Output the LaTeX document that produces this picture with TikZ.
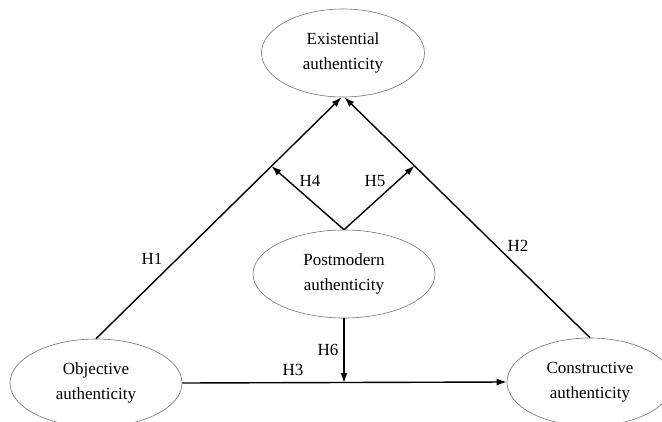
\documentclass[tikz,border=0pt]{standalone}
\usepackage{fontspec}
\setmainfont{Liberation Serif}
\usetikzlibrary{shapes.geometric,arrows.meta,calc}
\begin{document}
\begin{tikzpicture}[x=1pt,y=-1pt,
  construct/.style={draw=black!55,line width=0.6pt,ellipse,inner sep=0pt,align=center,
    font=\fontsize{17}{25}\selectfont},
  arr/.style={draw=black,line width=1.4pt,-{Latex[length=10pt,width=7pt]}},
  lnk/.style={draw=black,line width=1.4pt},
  hlab/.style={font=\fontsize{17}{20}\selectfont,inner sep=0pt}]
\useasboundingbox (0,0) rectangle (662,421);
\clip (0,0) rectangle (662,421);
\node[construct,minimum width=163pt,minimum height=88pt] (ex) at (343,53) {Existential\\authenticity};
\node[construct,minimum width=182pt,minimum height=88pt] (pm) at (344,274) {Postmodern\\authenticity};
\node[construct,minimum width=172pt,minimum height=88pt] (obj) at (96,383) {Objective\\authenticity};
\node[construct,minimum width=166pt,minimum height=88pt] (con) at (590,382) {Constructive\\authenticity};
\coordinate (exl) at ($(ex.south)+(-1.5,0)$);
\coordinate (exr) at ($(ex.south)+(1.5,0)$);
\draw[arr] (obj.north) -- (exl);
\draw[arr] (con.north) -- (exr);
\coordinate (h4e) at ($(obj.north)!0.715!(exl)$);
\coordinate (h5e) at ($(con.north)!0.715!(exr)$);
\draw[arr] (pm.north) -- (h4e);
\draw[arr] (pm.north) -- (h5e);
\draw[arr] (obj.east) -- (con.west);
\coordinate (h6e) at (pm.south |- obj.east);
\draw[arr] (pm.south) -- (h6e);
\node[hlab] (l1) at (152,259) {H1};
\node[hlab] (l2) at (518,246) {H2};
\node[hlab] (l3) at (293,370) {H3};
\node[hlab] (l4) at (310,181) {H4};
\node[hlab] (l5) at (375,181) {H5};
\node[hlab] (l6) at (328,350) {H6};
\end{tikzpicture}
\end{document}
